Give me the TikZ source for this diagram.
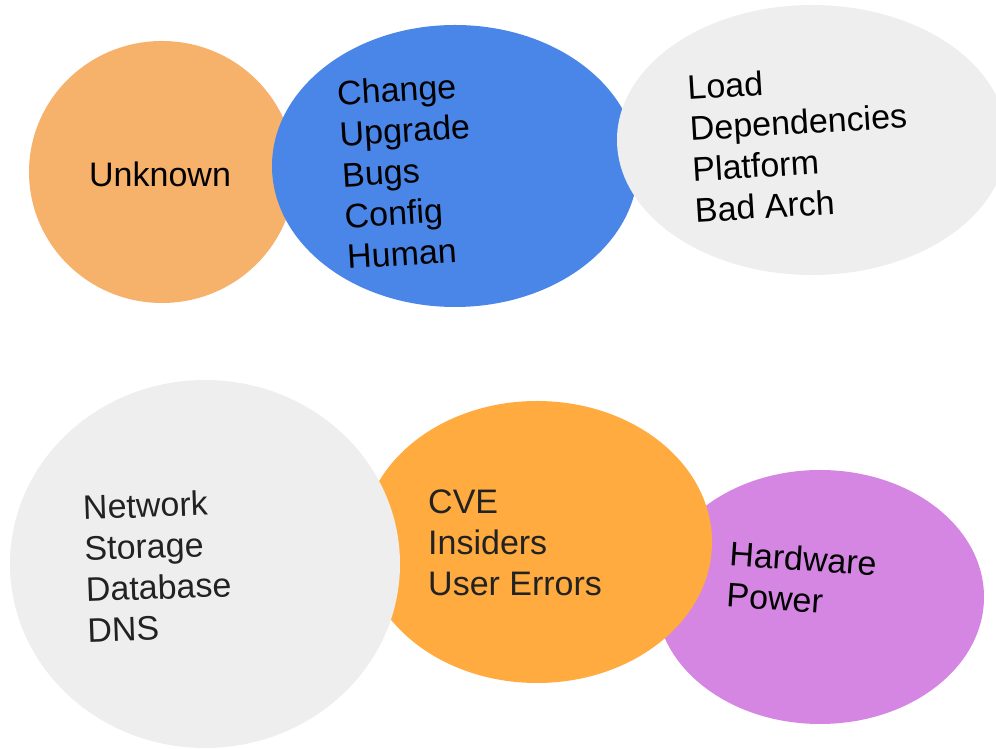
\documentclass[tikz,border=0pt]{standalone}
\usepackage{fontspec}
\setmainfont{Liberation Sans}
\usetikzlibrary{shapes.geometric}
\definecolor{lorange}{HTML}{F6B26B}
\definecolor{cblue}{HTML}{4A86E8}
\definecolor{lgray}{HTML}{EEEEEE}
\definecolor{dorange}{HTML}{FFAB40}
\definecolor{lmag}{HTML}{D586E3}
\definecolor{txtdark}{HTML}{222222}
\tikzset{
  blob/.style={ellipse, draw=none, inner sep=0pt, fill=#1},
  lbl/.style={anchor=west, inner sep=0pt, align=left, font=\fontsize{34}{41}\selectfont}
}
\begin{document}
\begin{tikzpicture}[x=1pt,y=1pt]
\useasboundingbox (0,0) rectangle (996,749);
\clip (0,0) rectangle (996,749);
% top row
\node[blob=lorange, minimum width=266pt, minimum height=262pt] (unk) at (162,577) {};
\node[blob=cblue, minimum width=366pt, minimum height=282pt] (chg) at (455,583) {};
\node[blob=lgray, minimum width=390pt, minimum height=270pt] (load) at (812,609) {};
% bottom row
\node[blob=lmag, minimum width=328pt, minimum height=254pt] (hw) at (820,152) {};
\node[blob=dorange, minimum width=350pt, minimum height=282pt] (cve) at (537,207) {};
\node[blob=lgray, minimum width=390pt, minimum height=368pt] (net) at (205,185) {};
% labels
\node[lbl] (tunk) at (89,575) {Unknown};
\node[lbl, rotate=3.5] (tchg) at (342,574) {Change\\Upgrade\\Bugs\\Config\\Human};
\node[lbl, rotate=3.5] (tload) at (691,600) {Load\\Dependencies\\Platform\\Bad Arch};
\node[lbl, rotate=2, text=txtdark] (tnet) at (85,180) {Network\\Storage\\Database\\DNS};
\node[lbl, text=txtdark] (tcve) at (428,206) {CVE\\Insiders\\User Errors};
\node[lbl, rotate=-4] (thw) at (728,175) {Hardware\\Power};
\end{tikzpicture}
\end{document}
